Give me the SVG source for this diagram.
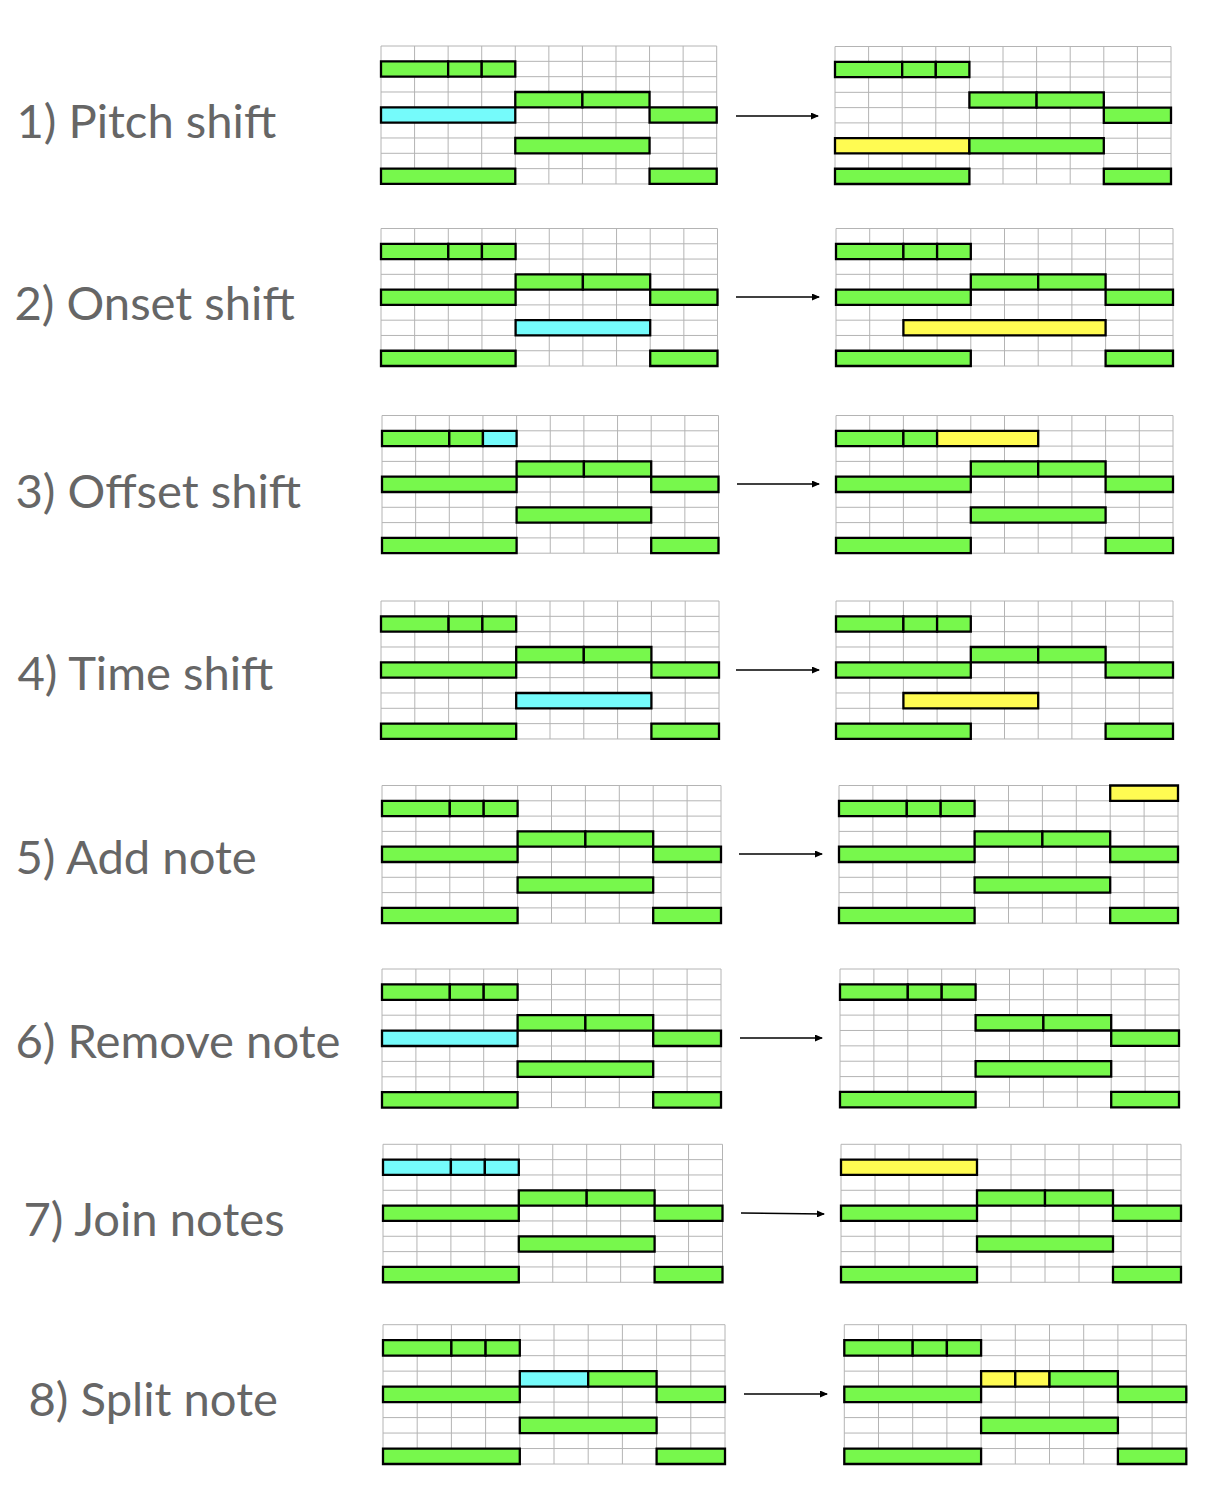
<svg xmlns="http://www.w3.org/2000/svg" xmlns:xlink="http://www.w3.org/1999/xlink" width="1228" height="1496" viewBox="0 0 1228 1496">
<style>
.lbl{font-family:Lato,"Open Sans","Liberation Sans",sans-serif;font-size:47.2px;fill:#666666}
.grid{fill:#ffffff;stroke:#b4b4b4;stroke-width:1;vector-effect:non-scaling-stroke}
.n{stroke:#000;stroke-width:2.3;vector-effect:non-scaling-stroke}
.g{fill:#77f84c}.c{fill:#75fbfb}.y{fill:#fffb52}
.arr{stroke:#000;stroke-width:1.6;fill:none}
</style>
<defs>
<marker id="ah" markerUnits="userSpaceOnUse" markerWidth="8" markerHeight="7" refX="7" refY="3.5" orient="auto">
<path d="M0,0 L8,3.5 L0,7 z" fill="#000"/>
</marker>
<path id="gridp" class="grid" d="M0 0H10V9H0Z M1 0V9M2 0V9M3 0V9M4 0V9M5 0V9M6 0V9M7 0V9M8 0V9M9 0V9 M0 1H10M0 2H10M0 3H10M0 4H10M0 5H10M0 6H10M0 7H10M0 8H10"/>
</defs>
<rect width="1228" height="1496" fill="#fff"/>

<g id="labels">
<text id="t1" class="lbl" x="16.5" y="138">1) Pitch shift</text>
<text id="t2" class="lbl" x="14.5" y="320">2) Onset shift</text>
<text id="t3" class="lbl" x="15.5" y="508">3) Offset shift</text>
<text id="t4" class="lbl" x="17.5" y="690">4) Time shift</text>
<text id="t5" class="lbl" x="15.5" y="874">5) Add note</text>
<text id="t6" class="lbl" x="15.5" y="1058">6) Remove note</text>
<text id="t7" class="lbl" x="23.5" y="1236">7) Join notes</text>
<text id="t8" class="lbl" x="28.5" y="1416">8) Split note</text>
</g>

<!-- 1 -->
<g id="p1L" transform="translate(381,46) scale(33.57,15.33)">
<use xlink:href="#gridp"/>
<rect class="n g" x="0" y="1" width="2" height="1"/><rect class="n g" x="2" y="1" width="1" height="1"/><rect class="n g" x="3" y="1" width="1" height="1"/>
<rect class="n g" x="4" y="3" width="2" height="1"/><rect class="n g" x="6" y="3" width="2" height="1"/>
<rect class="n c" x="0" y="4" width="4" height="1"/><rect class="n g" x="8" y="4" width="2" height="1"/>
<rect class="n g" x="4" y="6" width="4" height="1"/>
<rect class="n g" x="0" y="8" width="4" height="1"/><rect class="n g" x="8" y="8" width="2" height="1"/>
</g>
<g id="p1R" transform="translate(835,46.5) scale(33.6,15.28)">
<use xlink:href="#gridp"/>
<rect class="n g" x="0" y="1" width="2" height="1"/><rect class="n g" x="2" y="1" width="1" height="1"/><rect class="n g" x="3" y="1" width="1" height="1"/>
<rect class="n g" x="4" y="3" width="2" height="1"/><rect class="n g" x="6" y="3" width="2" height="1"/>
<rect class="n g" x="8" y="4" width="2" height="1"/>
<rect class="n y" x="0" y="6" width="4" height="1"/><rect class="n g" x="4" y="6" width="4" height="1"/>
<rect class="n g" x="0" y="8" width="4" height="1"/><rect class="n g" x="8" y="8" width="2" height="1"/>
</g>

<!-- 2 -->
<g id="p2L" transform="translate(381,228.5) scale(33.65,15.28)">
<use xlink:href="#gridp"/>
<rect class="n g" x="0" y="1" width="2" height="1"/><rect class="n g" x="2" y="1" width="1" height="1"/><rect class="n g" x="3" y="1" width="1" height="1"/>
<rect class="n g" x="4" y="3" width="2" height="1"/><rect class="n g" x="6" y="3" width="2" height="1"/>
<rect class="n g" x="0" y="4" width="4" height="1"/><rect class="n g" x="8" y="4" width="2" height="1"/>
<rect class="n c" x="4" y="6" width="4" height="1"/>
<rect class="n g" x="0" y="8" width="4" height="1"/><rect class="n g" x="8" y="8" width="2" height="1"/>
</g>
<g id="p2R" transform="translate(836,228.5) scale(33.7,15.28)">
<use xlink:href="#gridp"/>
<rect class="n g" x="0" y="1" width="2" height="1"/><rect class="n g" x="2" y="1" width="1" height="1"/><rect class="n g" x="3" y="1" width="1" height="1"/>
<rect class="n g" x="4" y="3" width="2" height="1"/><rect class="n g" x="6" y="3" width="2" height="1"/>
<rect class="n g" x="0" y="4" width="4" height="1"/><rect class="n g" x="8" y="4" width="2" height="1"/>
<rect class="n y" x="2" y="6" width="6" height="1"/>
<rect class="n g" x="0" y="8" width="4" height="1"/><rect class="n g" x="8" y="8" width="2" height="1"/>
</g>

<!-- 3 -->
<g id="p3L" transform="translate(382,415.5) scale(33.65,15.3)">
<use xlink:href="#gridp"/>
<rect class="n g" x="0" y="1" width="2" height="1"/><rect class="n g" x="2" y="1" width="1" height="1"/><rect class="n c" x="3" y="1" width="1" height="1"/>
<rect class="n g" x="4" y="3" width="2" height="1"/><rect class="n g" x="6" y="3" width="2" height="1"/>
<rect class="n g" x="0" y="4" width="4" height="1"/><rect class="n g" x="8" y="4" width="2" height="1"/>
<rect class="n g" x="4" y="6" width="4" height="1"/>
<rect class="n g" x="0" y="8" width="4" height="1"/><rect class="n g" x="8" y="8" width="2" height="1"/>
</g>
<g id="p3R" transform="translate(836,415.5) scale(33.7,15.3)">
<use xlink:href="#gridp"/>
<rect class="n g" x="0" y="1" width="2" height="1"/><rect class="n g" x="2" y="1" width="1" height="1"/><rect class="n y" x="3" y="1" width="3" height="1"/>
<rect class="n g" x="4" y="3" width="2" height="1"/><rect class="n g" x="6" y="3" width="2" height="1"/>
<rect class="n g" x="0" y="4" width="4" height="1"/><rect class="n g" x="8" y="4" width="2" height="1"/>
<rect class="n g" x="4" y="6" width="4" height="1"/>
<rect class="n g" x="0" y="8" width="4" height="1"/><rect class="n g" x="8" y="8" width="2" height="1"/>
</g>

<!-- 4 -->
<g id="p4L" transform="translate(381,601) scale(33.8,15.33)">
<use xlink:href="#gridp"/>
<rect class="n g" x="0" y="1" width="2" height="1"/><rect class="n g" x="2" y="1" width="1" height="1"/><rect class="n g" x="3" y="1" width="1" height="1"/>
<rect class="n g" x="4" y="3" width="2" height="1"/><rect class="n g" x="6" y="3" width="2" height="1"/>
<rect class="n g" x="0" y="4" width="4" height="1"/><rect class="n g" x="8" y="4" width="2" height="1"/>
<rect class="n c" x="4" y="6" width="4" height="1"/>
<rect class="n g" x="0" y="8" width="4" height="1"/><rect class="n g" x="8" y="8" width="2" height="1"/>
</g>
<g id="p4R" transform="translate(836,601) scale(33.7,15.33)">
<use xlink:href="#gridp"/>
<rect class="n g" x="0" y="1" width="2" height="1"/><rect class="n g" x="2" y="1" width="1" height="1"/><rect class="n g" x="3" y="1" width="1" height="1"/>
<rect class="n g" x="4" y="3" width="2" height="1"/><rect class="n g" x="6" y="3" width="2" height="1"/>
<rect class="n g" x="0" y="4" width="4" height="1"/><rect class="n g" x="8" y="4" width="2" height="1"/>
<rect class="n y" x="2" y="6" width="4" height="1"/>
<rect class="n g" x="0" y="8" width="4" height="1"/><rect class="n g" x="8" y="8" width="2" height="1"/>
</g>

<!-- 5 -->
<g id="p5L" transform="translate(382,785.5) scale(33.9,15.3)">
<use xlink:href="#gridp"/>
<rect class="n g" x="0" y="1" width="2" height="1"/><rect class="n g" x="2" y="1" width="1" height="1"/><rect class="n g" x="3" y="1" width="1" height="1"/>
<rect class="n g" x="4" y="3" width="2" height="1"/><rect class="n g" x="6" y="3" width="2" height="1"/>
<rect class="n g" x="0" y="4" width="4" height="1"/><rect class="n g" x="8" y="4" width="2" height="1"/>
<rect class="n g" x="4" y="6" width="4" height="1"/>
<rect class="n g" x="0" y="8" width="4" height="1"/><rect class="n g" x="8" y="8" width="2" height="1"/>
</g>
<g id="p5R" transform="translate(839,785.5) scale(33.9,15.3)">
<use xlink:href="#gridp"/>
<rect class="n y" x="8" y="0" width="2" height="1"/>
<rect class="n g" x="0" y="1" width="2" height="1"/><rect class="n g" x="2" y="1" width="1" height="1"/><rect class="n g" x="3" y="1" width="1" height="1"/>
<rect class="n g" x="4" y="3" width="2" height="1"/><rect class="n g" x="6" y="3" width="2" height="1"/>
<rect class="n g" x="0" y="4" width="4" height="1"/><rect class="n g" x="8" y="4" width="2" height="1"/>
<rect class="n g" x="4" y="6" width="4" height="1"/>
<rect class="n g" x="0" y="8" width="4" height="1"/><rect class="n g" x="8" y="8" width="2" height="1"/>
</g>

<!-- 6 -->
<g id="p6L" transform="translate(382,969) scale(33.9,15.4)">
<use xlink:href="#gridp"/>
<rect class="n g" x="0" y="1" width="2" height="1"/><rect class="n g" x="2" y="1" width="1" height="1"/><rect class="n g" x="3" y="1" width="1" height="1"/>
<rect class="n g" x="4" y="3" width="2" height="1"/><rect class="n g" x="6" y="3" width="2" height="1"/>
<rect class="n c" x="0" y="4" width="4" height="1"/><rect class="n g" x="8" y="4" width="2" height="1"/>
<rect class="n g" x="4" y="6" width="4" height="1"/>
<rect class="n g" x="0" y="8" width="4" height="1"/><rect class="n g" x="8" y="8" width="2" height="1"/>
</g>
<g id="p6R" transform="translate(840,969) scale(33.9,15.37)">
<use xlink:href="#gridp"/>
<rect class="n g" x="0" y="1" width="2" height="1"/><rect class="n g" x="2" y="1" width="1" height="1"/><rect class="n g" x="3" y="1" width="1" height="1"/>
<rect class="n g" x="4" y="3" width="2" height="1"/><rect class="n g" x="6" y="3" width="2" height="1"/>
<rect class="n g" x="8" y="4" width="2" height="1"/>
<rect class="n g" x="4" y="6" width="4" height="1"/>
<rect class="n g" x="0" y="8" width="4" height="1"/><rect class="n g" x="8" y="8" width="2" height="1"/>
</g>

<!-- 7 -->
<g id="p7L" transform="translate(383,1144.3) scale(33.95,15.33)">
<use xlink:href="#gridp"/>
<rect class="n c" x="0" y="1" width="2" height="1"/><rect class="n c" x="2" y="1" width="1" height="1"/><rect class="n c" x="3" y="1" width="1" height="1"/>
<rect class="n g" x="4" y="3" width="2" height="1"/><rect class="n g" x="6" y="3" width="2" height="1"/>
<rect class="n g" x="0" y="4" width="4" height="1"/><rect class="n g" x="8" y="4" width="2" height="1"/>
<rect class="n g" x="4" y="6" width="4" height="1"/>
<rect class="n g" x="0" y="8" width="4" height="1"/><rect class="n g" x="8" y="8" width="2" height="1"/>
</g>
<g id="p7R" transform="translate(841,1144.3) scale(34,15.33)">
<use xlink:href="#gridp"/>
<rect class="n y" x="0" y="1" width="4" height="1"/>
<rect class="n g" x="4" y="3" width="2" height="1"/><rect class="n g" x="6" y="3" width="2" height="1"/>
<rect class="n g" x="0" y="4" width="4" height="1"/><rect class="n g" x="8" y="4" width="2" height="1"/>
<rect class="n g" x="4" y="6" width="4" height="1"/>
<rect class="n g" x="0" y="8" width="4" height="1"/><rect class="n g" x="8" y="8" width="2" height="1"/>
</g>

<!-- 8 -->
<g id="p8L" transform="translate(383,1324.7) scale(34.2,15.48)">
<use xlink:href="#gridp"/>
<rect class="n g" x="0" y="1" width="2" height="1"/><rect class="n g" x="2" y="1" width="1" height="1"/><rect class="n g" x="3" y="1" width="1" height="1"/>
<rect class="n c" x="4" y="3" width="2" height="1"/><rect class="n g" x="6" y="3" width="2" height="1"/>
<rect class="n g" x="0" y="4" width="4" height="1"/><rect class="n g" x="8" y="4" width="2" height="1"/>
<rect class="n g" x="4" y="6" width="4" height="1"/>
<rect class="n g" x="0" y="8" width="4" height="1"/><rect class="n g" x="8" y="8" width="2" height="1"/>
</g>
<g id="p8R" transform="translate(844.3,1324.7) scale(34.2,15.48)">
<use xlink:href="#gridp"/>
<rect class="n g" x="0" y="1" width="2" height="1"/><rect class="n g" x="2" y="1" width="1" height="1"/><rect class="n g" x="3" y="1" width="1" height="1"/>
<rect class="n y" x="4" y="3" width="1" height="1"/><rect class="n y" x="5" y="3" width="1" height="1"/><rect class="n g" x="6" y="3" width="2" height="1"/>
<rect class="n g" x="0" y="4" width="4" height="1"/><rect class="n g" x="8" y="4" width="2" height="1"/>
<rect class="n g" x="4" y="6" width="4" height="1"/>
<rect class="n g" x="0" y="8" width="4" height="1"/><rect class="n g" x="8" y="8" width="2" height="1"/>
</g>

<g id="connectors">
<line class="arr" x1="736" y1="116" x2="818" y2="116" marker-end="url(#ah)"/>
<line class="arr" x1="736" y1="297" x2="819" y2="297" marker-end="url(#ah)"/>
<line class="arr" x1="737" y1="484" x2="819" y2="484" marker-end="url(#ah)"/>
<line class="arr" x1="736" y1="670" x2="819" y2="670" marker-end="url(#ah)"/>
<line class="arr" x1="739" y1="854" x2="822" y2="854" marker-end="url(#ah)"/>
<line class="arr" x1="740" y1="1038" x2="822" y2="1038" marker-end="url(#ah)"/>
<line class="arr" x1="741" y1="1213" x2="824" y2="1214" marker-end="url(#ah)"/>
<line class="arr" x1="744" y1="1394" x2="827" y2="1394" marker-end="url(#ah)"/>
</g>
</svg>
